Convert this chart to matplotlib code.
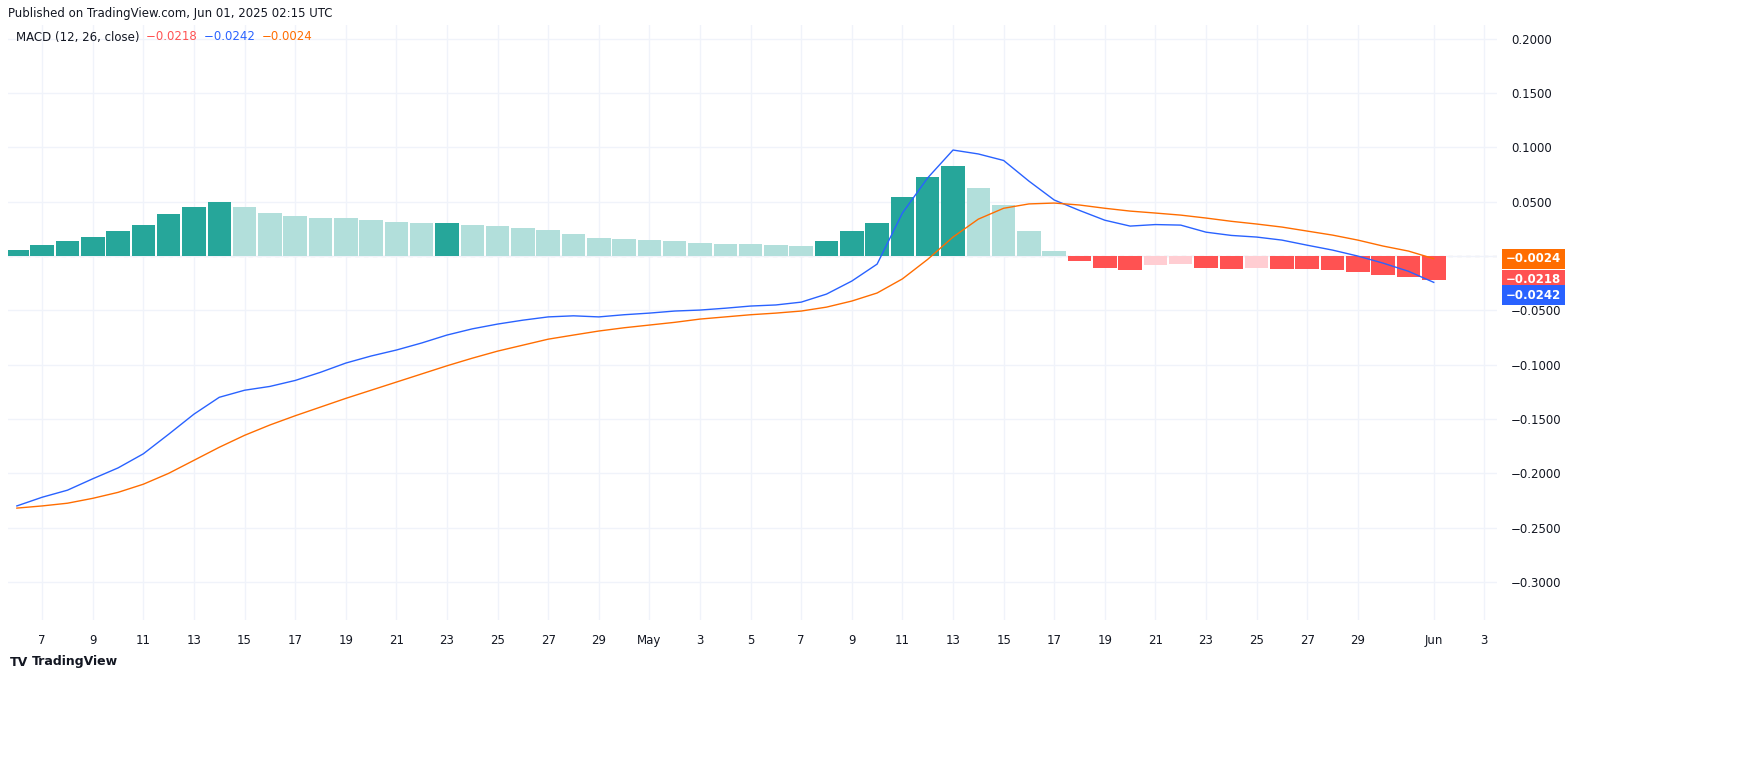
import numpy as np
import pandas as pd
import matplotlib.pyplot as plt

dates = pd.date_range("2025-04-06", "2025-06-01", freq="D")

hist = [0.0055, 0.010, 0.014, 0.018, 0.023, 0.0285, 0.0385, 0.045, 0.0495,
        0.045, 0.040, 0.037, 0.035, 0.0348, 0.033, 0.031, 0.030, 0.0305, 0.029,
        0.0275, 0.026, 0.024, 0.020, 0.0165, 0.0155, 0.0147, 0.0138, 0.012,
        0.011, 0.0108, 0.010, 0.0095, 0.014, 0.023, 0.030, 0.054, 0.073, 0.083,
        0.063, 0.047, 0.023, 0.0045, -0.0045, -0.011, -0.013, -0.008, -0.007,
        -0.011, -0.0115, -0.011, -0.0115, -0.012, -0.013, -0.015, -0.0175,
        -0.019, -0.0218]

macd = [-0.230, -0.222, -0.2155, -0.205, -0.195, -0.182, -0.164, -0.1455,
        -0.130, -0.1235, -0.120, -0.1145, -0.107, -0.0985, -0.092, -0.0865,
        -0.080, -0.0727, -0.067, -0.0626, -0.059, -0.056, -0.055, -0.056,
        -0.054, -0.0525, -0.0506, -0.0497, -0.048, -0.046, -0.045, -0.0424,
        -0.035, -0.023, -0.0074, 0.0396, 0.072, 0.0976, 0.094, 0.088, 0.069,
        0.0516, 0.042, 0.033, 0.0276, 0.029, 0.0285, 0.022, 0.019, 0.0175,
        0.0147, 0.010, 0.0055, 0.0, -0.0065, -0.014, -0.0242]

signal = [-0.232, -0.230, -0.2275, -0.223, -0.2175, -0.210, -0.200, -0.188,
          -0.176, -0.165, -0.1555, -0.147, -0.139, -0.131, -0.1235, -0.116,
          -0.1085, -0.101, -0.094, -0.0875, -0.082, -0.0765, -0.0727, -0.069,
          -0.066, -0.0635, -0.061, -0.058, -0.056, -0.054, -0.0525, -0.0506,
          -0.047, -0.0414, -0.034, -0.021, -0.003, 0.0175, 0.034, 0.044, 0.048,
          0.0488, 0.047, 0.044, 0.0414, 0.0396, 0.0377, 0.035, 0.032, 0.0295,
          0.0267, 0.023, 0.0193, 0.0147, 0.0092, 0.0046, -0.0024]

DARK_G, LIGHT_G = "#26a69a", "#b2dfdb"
DARK_R, LIGHT_R = "#ff5252", "#ffcdd2"
BLUE, ORANGE = "#2962ff", "#ff6d00"
TXT = "#131722"

colors = []
for i, h in enumerate(hist):
    prev = hist[i - 1] if i > 0 else -1
    if h >= 0:
        colors.append(DARK_G if h >= prev else LIGHT_G)
    else:
        colors.append(DARK_R if h < prev else LIGHT_R)

x = np.arange(len(dates))

fig = plt.figure(figsize=(17.55, 7.6), dpi=100)
ax = fig.add_axes([8 / 1755, 1 - 620 / 760, (1497 - 8) / 1755, (620 - 25) / 760])

ax.bar(x, hist, width=0.93, color=colors, zorder=2)
ax.plot(x, macd, color=BLUE, lw=1, zorder=3)
ax.plot(x, signal, color=ORANGE, lw=1, zorder=3)
ax.axhline(0, color="#9598a1", lw=0.8, ls=(0, (4, 4)), zorder=1)

ymin, ymax = -0.335, 0.2127
ax.set_xlim(-0.35, 58.5)
ax.set_ylim(ymin, ymax)

yt = np.round(np.arange(-0.3, 0.2001, 0.05), 4)
ax.set_yticks(yt)
ax.set_yticklabels(["" if abs(v) < 1e-9 else f"{v:.4f}".replace("-", "\u2212") for v in yt])
ax.yaxis.tick_right()

tick_idx, tick_lab = [], []
all_dates = pd.date_range("2025-04-06", "2025-06-03", freq="D")
for i, d in enumerate(all_dates):
    if d.day == 1:
        tick_idx.append(i)
        tick_lab.append(d.strftime("%b"))
    elif d.day % 2 == 1 and d.day != 31:
        tick_idx.append(i)
        tick_lab.append(str(d.day))
ax.set_xticks(tick_idx)
ax.set_xticklabels(tick_lab)

ax.grid(True, color="#f0f3fa", lw=1, zorder=0)
for s in ax.spines.values():
    s.set_visible(False)
ax.tick_params(length=0, labelsize=8.5, colors=TXT, pad=10)

def ypos(v):
    return (v - ymin) / (ymax - ymin)

labels = [(signal[-1], ORANGE, 0.0), (hist[-1], DARK_R, 0.0), (macd[-1], BLUE, -0.022)]
for val, col, off in labels:
    ax.text(1.006, ypos(val) + off, f"{val:.4f}".replace("-", "\u2212"),
            transform=ax.transAxes, color="white", fontsize=8.5, fontweight="bold",
            va="center", ha="left",
            bbox=dict(boxstyle="square,pad=0.3", fc=col, ec="none"))

fig.text(8 / 1755, 1 - 13 / 760, "Published on TradingView.com, Jun 01, 2025 02:15 UTC",
         fontsize=8.5, color=TXT, va="center")
y0 = 1 - 37 / 760
parts = [("MACD (12, 26, close) ", TXT), ("\u22120.0218 ", DARK_R),
         ("\u22120.0242 ", BLUE), ("\u22120.0024", ORANGE)]
xp = 16 / 1755
for t, c in parts:
    tx = fig.text(xp, y0, t, fontsize=8.5, color=c, va="center")
    fig.canvas.draw()
    bb = tx.get_window_extent()
    xp += bb.width / 1755 + 3 / 1755
fig.text(10 / 1755, 1 - 662 / 760, "TV", fontsize=9, color=TXT,
         fontweight="heavy", va="center")
fig.text(32 / 1755, 1 - 662 / 760, "TradingView", fontsize=9, color=TXT,
         fontweight="bold", va="center")

fig.savefig("out.png", dpi=100)
